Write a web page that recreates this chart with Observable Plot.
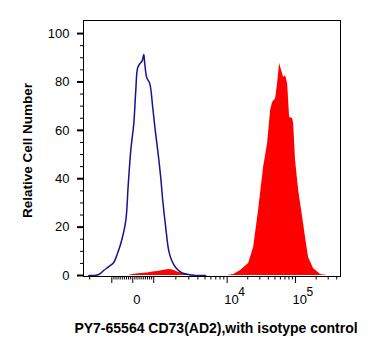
<!DOCTYPE html>
<html><head><meta charset="utf-8">
<script src="https://cdn.jsdelivr.net/npm/d3@7"></script>
<script src="https://cdn.jsdelivr.net/npm/@observablehq/plot@0.6"></script>
<style>
body{margin:0;background:#fff;}
#wrap{position:relative;width:375px;height:356px;font-family:"Liberation Sans",Arial,sans-serif;}
#title{position:absolute;top:321px;left:216px;transform:translateX(-50%);white-space:nowrap;font-weight:bold;font-size:14px;line-height:14px;color:#000;}
</style></head><body>
<div id="wrap"><div id="chart"></div><div id="title"></div></div>
<script>
const titleText = "PY7-65564 CD73(AD2),with isotype control";
const yLabel = "Relative Cell Number";

// Isotype control (blue outline): fluorescence intensity vs relative count
const isoX = [-2055, -1757, -1503, -1285, -1099, -905, -714, -571, -333, -224, -95, 48, 143, 238, 381, 452, 524, 571, 667, 810, 952, 1048, 1133, 1245, 1326, 1457, 1600, 1757, 1992, 2258, 2559, 2993, 3726, 5104];
const isoY = [0, 0, 0.4, 2.1, 3.7, 5.4, 9.5, 13.2, 22.7, 36.5, 51.7, 62.8, 76.4, 86, 88, 88.8, 91.3, 87.6, 81.8, 79.3, 69.4, 60, 51.7, 40.5, 31, 19.8, 10.3, 6.2, 3.3, 1.7, 0.8, 0.4, 0, 0];

// CD73 stained (red fill)
const cd73X = [-190, 0, 381, 714, 952, 1133, 1326, 1600, 1813, 2122, 2481, 2900, 3726, 10070, 12440, 15750, 20600, 24400, 28800, 34100, 39000, 43200, 46200, 51100, 54600, 58400, 62500, 66900, 71600, 76600, 81900, 90700, 93800, 100000, 111000, 127000, 140000, 155000, 183000, 232000, 293000];
const cd73Y = [0, 0.4, 0.8, 1.0, 1.4, 1.7, 2.1, 2.5, 2.3, 1.4, 0.8, 0.4, 0, 0, 0.4, 2.1, 5, 11.6, 26.9, 44.6, 54.5, 68.2, 71.5, 73.1, 79.3, 87.6, 84.7, 81.8, 82.6, 79.3, 65.3, 64.9, 62.8, 47.5, 35.1, 24, 15.7, 7.4, 2.9, 0.4, 0];

// Axis ticks
const yMajor = [0, 20, 40, 60, 80, 100];
const yMinor = [5, 10, 15, 25, 30, 35, 45, 50, 55, 65, 70, 75, 85, 90, 95];
const xMajor = [-1000, 0, 1000, 10000, 100000];
const xMinor = [-2000, -900, -800, -700, -600, -500, -400, -300, -200, -100, 100, 200, 300, 400, 500, 600, 700, 800, 900,
  2000, 3000, 4000, 5000, 6000, 7000, 8000, 9000,
  20000, 30000, 40000, 50000, 60000, 70000, 80000, 90000, 200000, 300000, 400000];
const xLabelVals = [0, 10000, 100000];
const xLabelBase = ["0", "10", "10"];
const xLabelExp = ["", "4", "5"];
const xMin = -2430, xMax = 454000;

// Biexponential-style display transform (linear near zero, log beyond)
function biex(v) {
  const s = Math.sign(v), a = Math.abs(v);
  let t;
  if (a <= 1000) t = 21 * a / 1000;
  else if (a <= 1e4) t = 21 + 73.5 * Math.log10(a / 1000);
  else t = 94.5 + 68.5 * Math.log10(a / 1e4);
  return s * t;
}

const iso = isoX.map((x, i) => ({x, y: isoY[i]}));
const cd73 = cd73X.map((x, i) => ({x, y: cd73Y[i]}));
const labels = xLabelVals.map((v, i) => ({v, base: xLabelBase[i], exp: xLabelExp[i]}));

document.getElementById("title").textContent = titleText;

const W = 375, H = 312;
const chart = Plot.plot({
  width: W, height: H,
  marginLeft: 83, marginRight: 35, marginTop: 20, marginBottom: H - 276,
  style: {fontFamily: '"Liberation Sans", Arial, sans-serif', fontSize: "13px", color: "#000", background: "#fff"},
  x: {type: "linear", transform: biex, domain: [biex(xMin), biex(xMax)], label: null},
  y: {domain: [-0.41, 105.4], label: null},
  marks: [
    Plot.areaY(cd73, {x: "x", y: "y", fill: "#ff0000", curve: "linear"}),
    Plot.lineY(iso, {x: "x", y: "y", stroke: "#14148f", strokeWidth: 1.5, curve: "catmull-rom"}),
    Plot.frame({stroke: "#000", strokeWidth: 1}),
    Plot.axisY(yMajor, {tickSize: 6, tickPadding: 8, strokeWidth: 2, fontSize: 13, label: null}),
    Plot.axisY(yMinor, {tickSize: 3, tickFormat: () => "", label: null}),
    Plot.axisX(xMajor, {tickSize: 7, tickFormat: () => "", label: null}),
    Plot.axisX(xMinor, {tickSize: 3.5, tickFormat: () => "", label: null}),
    Plot.text(labels.filter(d => d.exp === ""), {x: "v", text: "base", frameAnchor: "bottom", lineAnchor: "bottom", dy: 27, dx: 4, fontSize: 13, fill: "#000"}),
    Plot.text(labels.filter(d => d.exp !== ""), {x: "v", text: "base", frameAnchor: "bottom", lineAnchor: "bottom", textAnchor: "start", dy: 27, dx: -3, fontSize: 13, fill: "#000"}),
    Plot.text(labels.filter(d => d.exp !== ""), {x: "v", text: "exp", frameAnchor: "bottom", lineAnchor: "bottom", textAnchor: "start", dy: 19, dx: 11, fontSize: 12, fill: "#000"}),
    Plot.text([yLabel], {frameAnchor: "left", textAnchor: "middle", rotate: -90, dx: -55.5, dy: 2, fontWeight: "bold", fontSize: 13.5, fill: "#000"})
  ]
});
document.getElementById("chart").appendChild(chart);
</script>
</body></html>
